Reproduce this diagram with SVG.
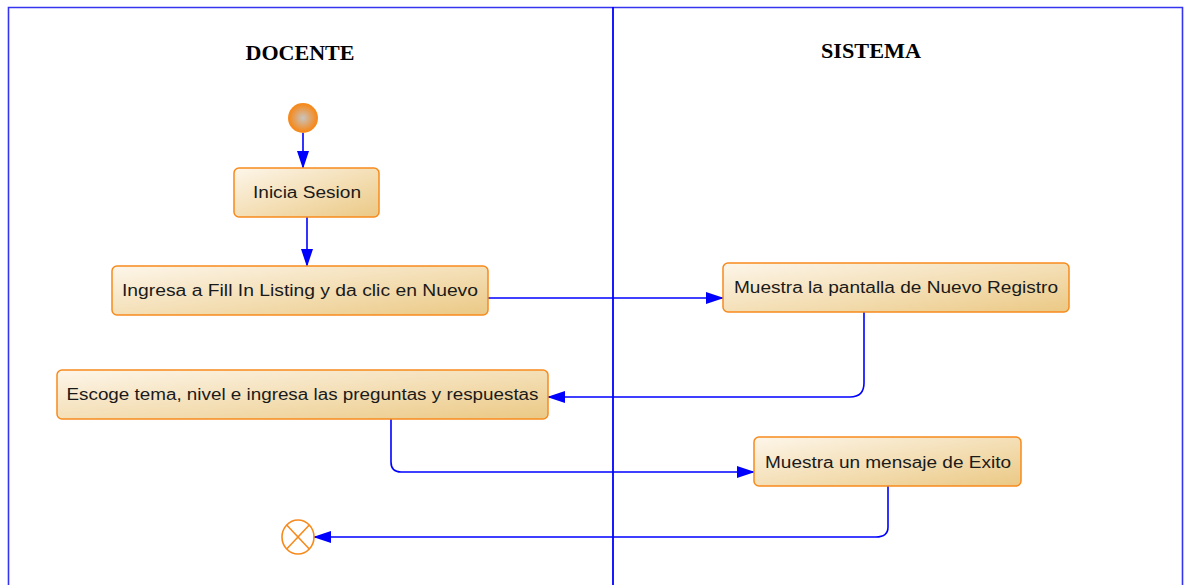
<svg xmlns="http://www.w3.org/2000/svg" width="1186" height="585" viewBox="0 0 1186 585">
<defs>
<linearGradient id="ng" x1="0" y1="0" x2="1" y2="1">
<stop offset="0" stop-color="#fdf6ea"/>
<stop offset="1" stop-color="#ebc985"/>
</linearGradient>
<radialGradient id="sg" cx="0.5" cy="0.5" r="0.5">
<stop offset="0" stop-color="#c8c4c0"/>
<stop offset="0.9" stop-color="#f58a1f"/>
<stop offset="1" stop-color="#f58a1f"/>
</radialGradient>
<marker id="ah" markerWidth="18" markerHeight="14" refX="17" refY="7" orient="auto" markerUnits="userSpaceOnUse">
<path d="M0,1 L18,7 L0,13 Z" fill="#0000ff"/>
</marker>
</defs>
<style>
.node rect{fill:url(#ng);stroke:#f78a1d;stroke-width:1.5}
.node text{font-family:"Liberation Sans",Arial,sans-serif;font-size:16px;fill:#1a1a1a;text-anchor:middle}
.hdr{font-family:"Liberation Serif","Times New Roman",serif;font-size:21px;font-weight:bold;fill:#000;text-anchor:middle}
.c{fill:none;stroke:#0000ff;stroke-width:1.6}
</style>
<rect x="0" y="0" width="1186" height="585" fill="#fff"/>
<g id="frame">
<path d="M8.5,585 V7.5 H1182.5 V585" fill="none" stroke="#3535f0" stroke-width="1.6"/>
<line x1="613" y1="7" x2="613" y2="585" stroke="#0000ff" stroke-width="1.8"/>
<text class="hdr" x="300" y="60" textLength="109" lengthAdjust="spacingAndGlyphs">DOCENTE</text>
<text class="hdr" x="871" y="58" textLength="100" lengthAdjust="spacingAndGlyphs">SISTEMA</text>
</g>
<g id="connectors">
<line class="c" x1="303" y1="133" x2="303" y2="168" marker-end="url(#ah)"/>
<line class="c" x1="307" y1="217" x2="307" y2="266" marker-end="url(#ah)"/>
<line class="c" x1="488" y1="298" x2="723" y2="298" marker-end="url(#ah)"/>
<path class="c" d="M864,312 V383 Q864,397 850,397 H548" marker-end="url(#ah)"/>
<path class="c" d="M391,419 V462 Q391,472 401,472 H754" marker-end="url(#ah)"/>
<path class="c" d="M888,486 V527 Q888,537 876,537 H314" marker-end="url(#ah)"/>
</g>
<g id="start">
<circle cx="303" cy="118" r="15" fill="url(#sg)"/>
</g>
<g id="n1" class="node">
<rect x="234" y="168" width="145" height="49" rx="5"/>
<text x="307" y="198" textLength="108" lengthAdjust="spacingAndGlyphs">Inicia Sesion</text>
</g>
<g id="n2" class="node">
<rect x="112" y="266" width="376" height="49" rx="5"/>
<text x="300" y="296" textLength="356" lengthAdjust="spacingAndGlyphs">Ingresa a Fill In Listing y da clic en Nuevo</text>
</g>
<g id="n3" class="node">
<rect x="723" y="263" width="346" height="49" rx="5"/>
<text x="896" y="293" textLength="324" lengthAdjust="spacingAndGlyphs">Muestra la pantalla de Nuevo Registro</text>
</g>
<g id="n4" class="node">
<rect x="57" y="370" width="491" height="49" rx="5"/>
<text x="302.5" y="400" textLength="472" lengthAdjust="spacingAndGlyphs">Escoge tema, nivel e ingresa las preguntas y respuestas</text>
</g>
<g id="n5" class="node">
<rect x="754" y="437" width="267" height="49" rx="5"/>
<text x="888" y="468" textLength="246" lengthAdjust="spacingAndGlyphs">Muestra un mensaje de Exito</text>
</g>
<g id="end">
<ellipse cx="298" cy="537" rx="16" ry="17" fill="#fff" stroke="#f78a1d" stroke-width="1.6"/>
<line x1="286.7" y1="525" x2="309.3" y2="549" stroke="#f78a1d" stroke-width="1.6"/>
<line x1="309.3" y1="525" x2="286.7" y2="549" stroke="#f78a1d" stroke-width="1.6"/>
</g>
</svg>
